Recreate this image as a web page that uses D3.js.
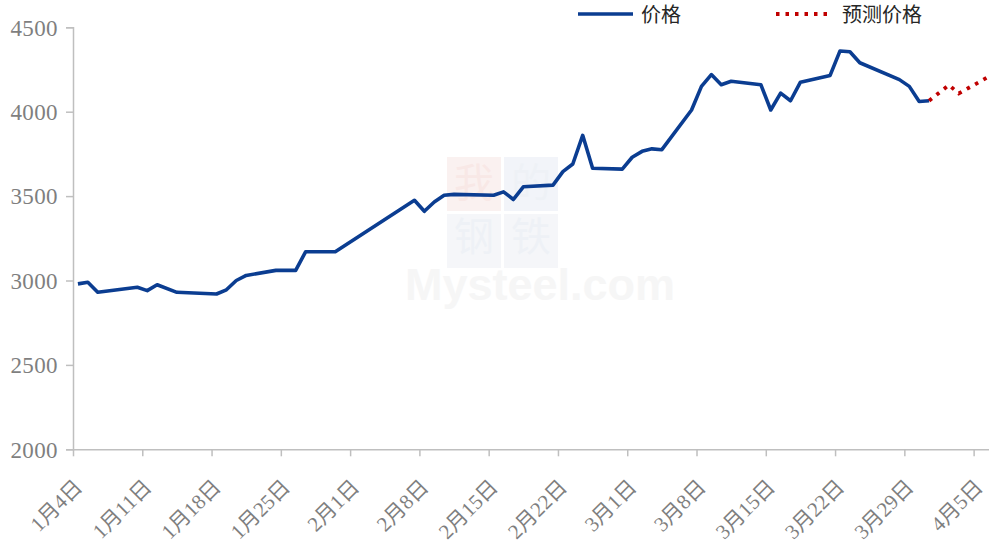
<!DOCTYPE html>
<html>
<head>
<meta charset="utf-8">
<script src="https://cdn.jsdelivr.net/npm/d3@7"></script>
<style>
  html, body { margin: 0; padding: 0; background: #fff; }
  svg { display: block; }
</style>
</head>
<body>
<svg id="chart" width="989" height="546"></svg>
<script>
// ---- data ----
const priceDates = ["2022-01-04","2022-01-05","2022-01-06","2022-01-10","2022-01-11","2022-01-12","2022-01-14",
  "2022-01-18","2022-01-19","2022-01-20","2022-01-21","2022-01-24","2022-01-26","2022-01-27","2022-01-30",
  "2022-02-07","2022-02-08","2022-02-09","2022-02-10","2022-02-11","2022-02-15","2022-02-16","2022-02-17",
  "2022-02-18","2022-02-21","2022-02-22","2022-02-23","2022-02-24","2022-02-25","2022-02-28","2022-03-01",
  "2022-03-02","2022-03-03","2022-03-04","2022-03-07","2022-03-08","2022-03-09","2022-03-10","2022-03-11",
  "2022-03-14","2022-03-15","2022-03-16","2022-03-17","2022-03-18","2022-03-21","2022-03-22","2022-03-23",
  "2022-03-24","2022-03-28","2022-03-29","2022-03-30","2022-03-31"];
const priceValues = [2980,2990,2930,2960,2940,2975,2930,
  2920,2945,3000,3030,3060,3060,3170,3170,
  3475,3410,3465,3505,3510,3505,3525,3480,
  3555,3565,3645,3690,3860,3665,3660,3730,
  3765,3780,3775,4010,4150,4220,4160,4180,
  4160,4010,4110,4065,4175,4215,4360,4355,
  4290,4190,4150,4060,4065];
const forecastDates = ["2022-03-31","2022-04-02","2022-04-03","2022-04-06"];
const forecastValues = [4065,4158,4108,4207];
const xTickDates = ["2022-01-04","2022-01-11","2022-01-18","2022-01-25","2022-02-01","2022-02-08","2022-02-15",
  "2022-02-22","2022-03-01","2022-03-08","2022-03-15","2022-03-22","2022-03-29","2022-04-05"];
const xTickLabels = ["1月4日","1月11日","1月18日","1月25日","2月1日","2月8日","2月15日",
  "2月22日","3月1日","3月8日","3月15日","3月22日","3月29日","4月5日"];
const yTicks = [2000,2500,3000,3500,4000,4500];
const legendLabels = ["价格","预测价格"];

// ---- layout ----
const svg = d3.select("#chart");
const parse = d3.utcParse("%Y-%m-%d");
const mid = s => d3.utcHour.offset(parse(s), 12);   // points sit mid-day (between tick marks)
const plotLeft = 73, plotBottom = 449.3, plotTop = 27.3;
const dayPx = 9.897;
const x0 = parse("2022-01-04"), x1 = parse("2022-04-07");
const x = d3.scaleUtc().domain([x0, x1]).range([plotLeft, plotLeft + 93 * dayPx]);
const y = d3.scaleLinear().domain([2000, 4500]).range([plotBottom, plotTop]);

const axisColor = "#bfbfbf";
const labelColor = "#7f7f7f";

// watermark
const wm = svg.append("g").attr("opacity", 0.5);
wm.append("rect").attr("x", 447).attr("y", 157).attr("width", 54).attr("height", 54).attr("fill", "#f7e4e2");
wm.append("rect").attr("x", 504).attr("y", 157).attr("width", 54).attr("height", 54).attr("fill", "#e6ebf4");
wm.append("rect").attr("x", 447).attr("y", 214).attr("width", 54).attr("height", 54).attr("fill", "#eceff4");
wm.append("rect").attr("x", 504).attr("y", 214).attr("width", 54).attr("height", 54).attr("fill", "#eceff4");
wm.selectAll("text.wmc").data(["我","的","钢","铁"]).join("text")
  .attr("x", (d,i) => 474 + (i % 2) * 57).attr("y", (d,i) => 197 + Math.floor(i/2) * 54)
  .attr("text-anchor", "middle").attr("font-family", "Noto Sans CJK SC").attr("font-size", 40)
  .attr("fill", (d,i) => i === 0 ? "#f3d2ce" : "#dfe5ef").text(d => d);
wm.append("text").attr("x", 405).attr("y", 300).attr("font-family", "Liberation Sans, Arial").attr("font-weight", "bold")
  .attr("font-size", 45).attr("fill", "#eeeeee").text("Mysteel.com");

// axes
const gy = svg.append("g").attr("transform", `translate(${plotLeft},0)`)
  .call(d3.axisLeft(y).tickValues(yTicks).tickSize(7).tickPadding(8).tickFormat(d3.format("d")));
gy.select(".domain").attr("stroke", axisColor).attr("stroke-width", 1.5);
gy.selectAll(".tick line").attr("stroke", axisColor).attr("stroke-width", 1.5);
gy.selectAll(".tick text").attr("fill", labelColor).attr("font-family", "Liberation Serif, Times New Roman, serif")
  .attr("font-size", 23).attr("letter-spacing", 0.4).attr("dy", "0.34em");

const gx = svg.append("g").attr("transform", `translate(0,${plotBottom})`)
  .call(d3.axisBottom(x).tickValues(xTickDates.map(parse)).tickSize(7).tickSizeOuter(0)
    .tickFormat((d,i) => xTickLabels[i]));
gx.select(".domain").attr("stroke", axisColor).attr("stroke-width", 1.5);
gx.selectAll(".tick line").attr("stroke", axisColor).attr("stroke-width", 1.5);
gx.selectAll(".tick text").attr("fill", labelColor)
  .attr("font-family", "Liberation Serif, Noto Sans CJK SC, serif").attr("font-size", 21)
  .attr("text-anchor", "end").attr("dy", null).attr("y", null)
  .attr("transform", "translate(10,39) rotate(-45)");

// lines
const line = d3.line().x(d => x(mid(d[0]))).y(d => y(d[1]));
svg.append("path").datum(priceDates.map((d,i) => [d, priceValues[i]]))
  .attr("d", line).attr("fill", "none").attr("stroke", "#0b3d91").attr("stroke-width", 3.6)
  .attr("stroke-linejoin", "round");
svg.append("path").datum(forecastDates.map((d,i) => [d, forecastValues[i]]))
  .attr("d", line).attr("fill", "none").attr("stroke", "#c00000").attr("stroke-width", 3.8)
  .attr("stroke-dasharray", "3.5,6").attr("stroke-linecap", "butt");

// legend
const lg = svg.append("g");
lg.append("line").attr("x1", 578).attr("x2", 633).attr("y1", 14).attr("y2", 14)
  .attr("stroke", "#0b3d91").attr("stroke-width", 3.6);
lg.append("line").attr("x1", 776).attr("x2", 830).attr("y1", 14).attr("y2", 14)
  .attr("stroke", "#c00000").attr("stroke-width", 3.8).attr("stroke-dasharray", "3.5,6");
lg.selectAll("text").data(legendLabels).join("text")
  .attr("x", (d,i) => i === 0 ? 641 : 842).attr("y", 15).attr("dy", "0.35em")
  .attr("font-family", "Noto Sans CJK SC").attr("font-size", 20).attr("fill", "#262626")
  .text(d => d);
</script>
</body>
</html>
